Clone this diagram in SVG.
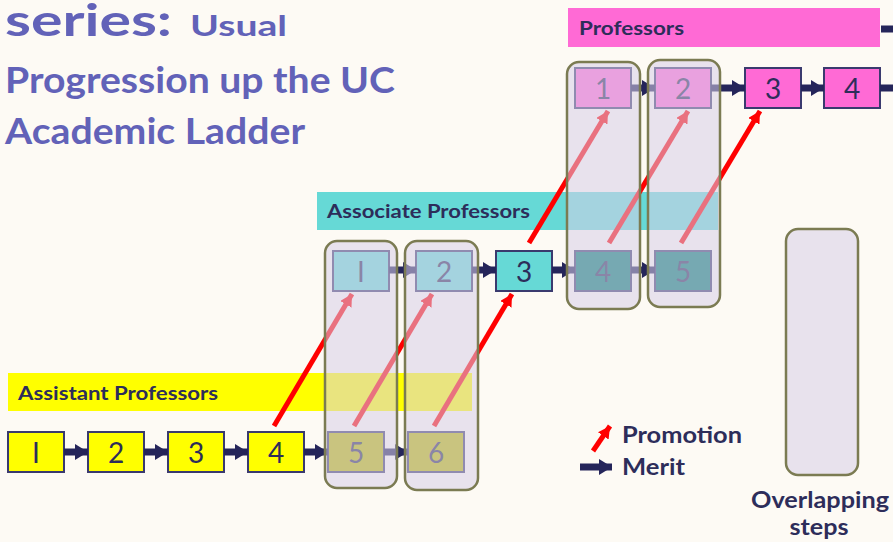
<svg xmlns="http://www.w3.org/2000/svg" width="893" height="542" viewBox="0 0 893 542">
<style>
.title{font-family:Lato,"Open Sans","Liberation Sans",sans-serif;font-weight:bold;fill:#6262b8}
.band-label{font-family:Lato,"Open Sans","Liberation Sans",sans-serif;font-weight:bold;font-size:19px;fill:#2d2d5a}
.num{font-family:Lato,"Open Sans","Liberation Sans",sans-serif;font-size:28px;fill:#2d2d5a;text-anchor:middle}
.legend{font-family:Lato,"Open Sans","Liberation Sans",sans-serif;font-weight:bold;font-size:22px;fill:#2d2d5a}
.box{stroke:#3a3a6e;stroke-width:2}
.ybox{fill:#ffff00}
.ybox-dim{fill:#b8b800}
.tbox{fill:#66d9d6}
.tbox-dim{fill:#007d72}
.pbox{fill:#ff6ad5}
.overlay{fill:#d7cde8;fill-opacity:0.55;stroke:#7b7b52;stroke-width:2.5}
.merit{stroke:#25255a;stroke-width:7;fill:none}
.promo{stroke:#ff0000;stroke-width:5;fill:none}
</style>
<defs>
<marker id="mhead" markerUnits="userSpaceOnUse" markerWidth="14" markerHeight="16" refX="13" refY="8" orient="auto">
<path d="M0,0 L13,8 L0,16 Z" fill="#25255a"/>
</marker>
<marker id="phead" markerUnits="userSpaceOnUse" markerWidth="13" markerHeight="13" refX="12" refY="6.5" orient="auto">
<path d="M0,0 L12,6.5 L0,13 Z" fill="#ff0000"/>
</marker>
</defs>
<rect x="0" y="0" width="893" height="542" fill="#fdfaf4"/>

<g id="title">
<text class="title" x="5" y="36" font-size="44" textLength="167" lengthAdjust="spacingAndGlyphs">series:</text>
<text class="title" x="190" y="36" font-size="29" textLength="97" lengthAdjust="spacingAndGlyphs">Usual</text>
<text class="title" x="5" y="93" font-size="36" textLength="390" lengthAdjust="spacingAndGlyphs">Progression up the UC</text>
<text class="title" x="5" y="144" font-size="36" textLength="300" lengthAdjust="spacingAndGlyphs">Academic Ladder</text>
</g>

<g id="band-assistant">
<rect x="8" y="373" width="464" height="38" fill="#ffff00"/>
<text class="band-label" x="18" y="400" textLength="200" lengthAdjust="spacingAndGlyphs">Assistant Professors</text>
</g>
<g id="band-associate">
<rect x="317" y="192" width="401" height="38" fill="#66d9d6"/>
<text class="band-label" x="327" y="218" textLength="203" lengthAdjust="spacingAndGlyphs">Associate Professors</text>
</g>
<g id="band-professor">
<rect x="568" y="8" width="312" height="39" fill="#ff6ad5"/>
<text class="band-label" x="579" y="35" textLength="105" lengthAdjust="spacingAndGlyphs">Professors</text>
</g>

<g id="asst-1"><rect class="box ybox" x="8" y="432" width="56" height="40"/><text class="num" x="36" y="463">I</text></g>
<g id="asst-2"><rect class="box ybox" x="88" y="432" width="56" height="40"/><text class="num" x="116" y="463">2</text></g>
<g id="asst-3"><rect class="box ybox" x="168" y="432" width="56" height="40"/><text class="num" x="196" y="463">3</text></g>
<g id="asst-4"><rect class="box ybox" x="248" y="432" width="56" height="40"/><text class="num" x="276" y="463">4</text></g>
<g id="asst-5"><rect class="box ybox-dim" x="328" y="432" width="56" height="40"/><text class="num" x="356" y="463">5</text></g>
<g id="asst-6"><rect class="box ybox-dim" x="408" y="432" width="56" height="40"/><text class="num" x="436" y="463">6</text></g>

<g id="assoc-1"><rect class="box tbox" x="333" y="251" width="56" height="40"/><text class="num" x="361" y="282">I</text></g>
<g id="assoc-2"><rect class="box tbox" x="416" y="251" width="56" height="40"/><text class="num" x="444" y="282">2</text></g>
<g id="assoc-3"><rect class="box tbox" x="496" y="251" width="56" height="40" stroke="#1f2a5a"/><text class="num" x="524" y="282">3</text></g>
<g id="assoc-4"><rect class="box tbox-dim" x="575" y="251" width="56" height="40"/><text class="num" x="603" y="282">4</text></g>
<g id="assoc-5"><rect class="box tbox-dim" x="655" y="251" width="56" height="40"/><text class="num" x="683" y="282">5</text></g>

<g id="prof-1"><rect class="box pbox" x="575" y="68" width="56" height="40"/><text class="num" x="603" y="99">1</text></g>
<g id="prof-2"><rect class="box pbox" x="655" y="68" width="56" height="40"/><text class="num" x="683" y="99">2</text></g>
<g id="prof-3"><rect class="box pbox" x="745" y="68" width="56" height="40"/><text class="num" x="773" y="99">3</text></g>
<g id="prof-4"><rect class="box pbox" x="824" y="68" width="56" height="40"/><text class="num" x="852" y="99">4</text></g>

<g id="connectors">
<line class="merit" x1="64" y1="452" x2="88" y2="452" marker-end="url(#mhead)"/>
<line class="merit" x1="144" y1="452" x2="168" y2="452" marker-end="url(#mhead)"/>
<line class="merit" x1="224" y1="452" x2="248" y2="452" marker-end="url(#mhead)"/>
<line class="merit" x1="304" y1="452" x2="328" y2="452" marker-end="url(#mhead)"/>
<line class="merit" x1="384" y1="452" x2="408" y2="452" marker-end="url(#mhead)"/>
<line class="merit" x1="389" y1="270" x2="416" y2="270" marker-end="url(#mhead)"/>
<line class="merit" x1="472" y1="270" x2="496" y2="270" marker-end="url(#mhead)"/>
<line class="merit" x1="552" y1="270" x2="575" y2="270" marker-end="url(#mhead)"/>
<line class="merit" x1="631" y1="270" x2="655" y2="270" marker-end="url(#mhead)"/>
<line class="merit" x1="631" y1="88" x2="655" y2="88" marker-end="url(#mhead)"/>
<line class="merit" x1="711" y1="88" x2="745" y2="88" marker-end="url(#mhead)"/>
<line class="merit" x1="801" y1="88" x2="824" y2="88" marker-end="url(#mhead)"/>
<line class="merit" x1="880" y1="88" x2="906" y2="88" marker-end="url(#mhead)"/>
<line class="merit" x1="881" y1="29" x2="907" y2="29" marker-end="url(#mhead)"/>
<line class="promo" x1="274" y1="426" x2="352" y2="294" marker-end="url(#phead)"/>
<line class="promo" x1="354" y1="426" x2="432" y2="294" marker-end="url(#phead)"/>
<line class="promo" x1="434" y1="426" x2="512" y2="294" marker-end="url(#phead)"/>
<line class="promo" x1="529" y1="243" x2="608" y2="111" marker-end="url(#phead)"/>
<line class="promo" x1="609" y1="243" x2="688" y2="111" marker-end="url(#phead)"/>
<line class="promo" x1="681" y1="243" x2="760" y2="111" marker-end="url(#phead)"/>
</g>

<g id="overlap-asst-5"><rect class="overlay" x="325" y="241" width="72" height="247" rx="12"/></g>
<g id="overlap-asst-6"><rect class="overlay" x="405" y="241" width="73" height="249" rx="12"/></g>
<g id="overlap-assoc-4"><rect class="overlay" x="567" y="62" width="73" height="247" rx="12"/></g>
<g id="overlap-assoc-5"><rect class="overlay" x="648" y="60" width="72" height="247" rx="12"/></g>

<g id="legend">
<line class="promo" x1="593" y1="451" x2="610" y2="426" stroke-width="6" marker-end="url(#phead)"/>
<text class="legend" x="622" y="443" textLength="120" lengthAdjust="spacingAndGlyphs">Promotion</text>
<line class="merit" x1="580" y1="467" x2="612" y2="467" stroke-width="8" marker-end="url(#mhead)"/>
<text class="legend" x="622" y="475" textLength="63" lengthAdjust="spacingAndGlyphs">Merit</text>
</g>
<g id="legend-overlap">
<rect class="overlay" x="786" y="229" width="72" height="246" rx="12"/>
<text class="legend" x="820" y="508" text-anchor="middle" textLength="138" lengthAdjust="spacingAndGlyphs">Overlapping</text>
<text class="legend" x="819" y="535" text-anchor="middle" textLength="59" lengthAdjust="spacingAndGlyphs">steps</text>
</g>
</svg>
